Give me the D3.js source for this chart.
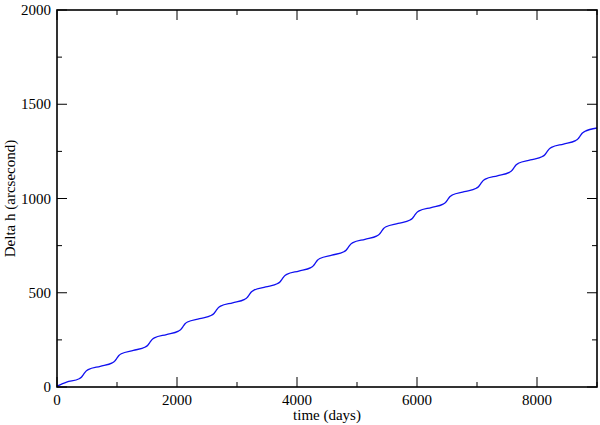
<!DOCTYPE html>
<html><head><meta charset="utf-8">
<script src="https://cdn.jsdelivr.net/npm/d3@7"></script>
<style>body{margin:0;background:#fff}svg{display:block}text{font-family:"Liberation Serif","Times New Roman",serif;fill:#000}</style>
</head><body>
<svg id="c" width="600" height="425"></svg>
<script>
const days = [0,160,
 370,410,445,480,520,721,
 921.5,961.5,996.5,1031.5,1071.5,1272.5,
 1473,1513,1548,1583,1623,1824,
 2024.5,2064.5,2099.5,2134.5,2174.5,2375.5,
 2576,2616,2651,2686,2726,2927,
 3127.5,3167.5,3202.5,3237.5,3277.5,3478.5,
 3679,3719,3754,3789,3829,4030,
 4230.5,4270.5,4305.5,4340.5,4380.5,4581.5,
 4782,4822,4857,4892,4932,5133,
 5333.5,5373.5,5408.5,5443.5,5483.5,5684.5,
 5885,5925,5960,5995,6035,6236,
 6436.5,6476.5,6511.5,6546.5,6586.5,6787.5,
 6988,7028,7063,7098,7138,7339,
 7539.5,7579.5,7614.5,7649.5,7689.5,7890.5,
 8091,8131,8166,8201,8241,8442,
 8642.5,8682.5,8717.5,8752.5,8792.5,9000];
const deltaH = [5,26,
 44.0,53.2,68.0,82.8,92.0,110.0,
 128.2,137.4,152.2,167.0,176.2,194.2,
 212.4,221.6,236.4,251.2,260.4,278.4,
 296.6,305.8,320.6,335.4,344.6,362.6,
 380.8,390.0,404.8,419.6,428.8,446.8,
 465.0,474.2,489.0,503.8,513.0,531.0,
 549.2,558.4,573.2,588.0,597.2,615.2,
 633.5,642.7,657.5,672.3,681.5,699.5,
 717.7,726.9,741.7,756.5,765.7,783.7,
 801.9,811.1,825.9,840.7,849.9,867.9,
 886.1,895.3,910.1,924.9,934.1,952.1,
 970.3,979.5,994.3,1009.1,1018.3,1036.3,
 1054.5,1063.7,1078.5,1093.3,1102.5,1120.5,
 1138.7,1147.9,1162.7,1177.5,1186.7,1204.7,
 1223.0,1232.2,1247.0,1261.8,1271.0,1289.0,
 1307.2,1316.4,1331.2,1346.0,1355.2,1374];
const xMajor = [0,2000,4000,6000,8000];
const xMinor = [1000,3000,5000,7000,9000];
const yMajor = [0,500,1000,1500,2000];
const yMinor = [250,750,1250,1750];

const svg = d3.select("#c");
const L=57, R=597, T=10, B=387;
const x = d3.scaleLinear().domain([0,9000]).range([L,R]);
const y = d3.scaleLinear().domain([0,2000]).range([B,T]);

const pts = days.map((d,i)=>[d,deltaH[i]]);
svg.append("path").datum(pts)
  .attr("fill","none").attr("stroke","#1010f0").attr("stroke-width",1.3)
  .attr("d", d3.line().x(d=>x(d[0])).y(d=>y(d[1])).curve(d3.curveMonotoneX));

const g = svg.append("g").attr("stroke","#000").attr("stroke-width",1);
xMajor.forEach(v=>{ g.append("line").attr("x1",x(v)).attr("x2",x(v)).attr("y1",B).attr("y2",B-10);
  g.append("line").attr("x1",x(v)).attr("x2",x(v)).attr("y1",T).attr("y2",T+10);});
xMinor.forEach(v=>{ g.append("line").attr("x1",x(v)).attr("x2",x(v)).attr("y1",B).attr("y2",B-5);
  g.append("line").attr("x1",x(v)).attr("x2",x(v)).attr("y1",T).attr("y2",T+5);});
yMajor.forEach(v=>{ g.append("line").attr("x1",L).attr("x2",L+10).attr("y1",y(v)).attr("y2",y(v));
  g.append("line").attr("x1",R).attr("x2",R-10).attr("y1",y(v)).attr("y2",y(v));});
yMinor.forEach(v=>{ g.append("line").attr("x1",L).attr("x2",L+5).attr("y1",y(v)).attr("y2",y(v));
  g.append("line").attr("x1",R).attr("x2",R-5).attr("y1",y(v)).attr("y2",y(v));});

svg.append("rect").attr("x",L).attr("y",T).attr("width",R-L).attr("height",B-T)
  .attr("fill","none").attr("stroke","#000").attr("stroke-width",1.6);

svg.selectAll(".xl").data(xMajor).enter().append("text")
  .attr("x",d=>x(d)).attr("y",405).attr("text-anchor","middle").attr("font-size",15).text(d=>d);
svg.selectAll(".yl").data(yMajor).enter().append("text")
  .attr("x",51).attr("y",d=>y(d)+5).attr("text-anchor","end").attr("font-size",15).text(d=>d);
svg.append("text").attr("x",(L+R)/2).attr("y",420).attr("text-anchor","middle").attr("font-size",15).text("time (days)");
svg.append("text").attr("transform",`translate(15,${(T+B)/2}) rotate(-90)`).attr("text-anchor","middle").attr("font-size",15).text("Delta h (arcsecond)");
</script>
</body></html>
